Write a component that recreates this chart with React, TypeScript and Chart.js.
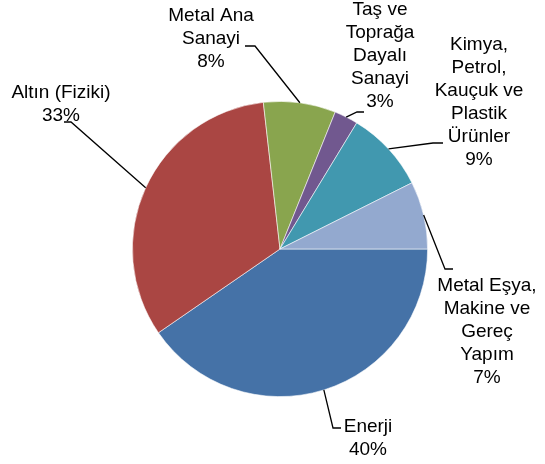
import React, { useEffect, useRef } from "react";
import { Chart, registerables } from "chart.js";

Chart.register(...registerables);

// ---- data ----
const categories = [
  "Enerji",
  "Altın (Fiziki)",
  "Metal Ana Sanayi",
  "Taş ve Toprağa Dayalı Sanayi",
  "Kimya, Petrol, Kauçuk ve Plastik Ürünler",
  "Metal Eşya, Makine ve Gereç Yapım",
];
const labelLines = [
  ["Enerji"],
  ["Altın (Fiziki)"],
  ["Metal Ana", "Sanayi"],
  ["Taş ve", "Toprağa", "Dayalı", "Sanayi"],
  ["Kimya,", "Petrol,", "Kauçuk ve", "Plastik", "Ürünler"],
  ["Metal Eşya,", "Makine ve", "Gereç", "Yapım"],
];
const shares = [40.4, 32.8, 7.9, 2.6, 8.9, 7.4];
const colors = ["#4572A7", "#AA4643", "#89A54E", "#71588F", "#4198AF", "#93A9CF"];

// ---- label layout (text centre x, first line centre y, elbow, horizontal end) ----
const labelLayout = [
  { tx: 368, ty: 427, ex: 333, ey: 428, hx: 341 },
  { tx: 61, ty: 93, ex: 71, ey: 122, hx: 64 },
  { tx: 211, ty: 16, ex: 255, ey: 46, hx: 245 },
  { tx: 380, ty: 10, ex: 357, ey: 112, hx: 364 },
  { tx: 479, ty: 45, ex: 433, ey: 143, hx: 443 },
  { tx: 487, ty: 286, ex: 445, ey: 269, hx: 453 },
];
const LINE_H = 23;
const FONT = '19px "Liberation Sans", Arial, sans-serif';

const labelPlugin = {
  id: "outsideLabels",
  afterDatasetsDraw(chart: any) {
    const ctx = chart.ctx;
    const meta = chart.getDatasetMeta(0);
    const total = shares.reduce((a, b) => a + b, 0);
    ctx.save();
    meta.data.forEach((arc: any, i: number) => {
      const { x, y, startAngle, endAngle, outerRadius } = arc.getProps(
        ["x", "y", "startAngle", "endAngle", "outerRadius"],
        true
      );
      const mid = (startAngle + endAngle) / 2;
      const px = x + Math.cos(mid) * outerRadius;
      const py = y + Math.sin(mid) * outerRadius;
      const L = labelLayout[i];
      ctx.strokeStyle = "#000";
      ctx.lineWidth = 1.3;
      ctx.beginPath();
      ctx.moveTo(px, py);
      ctx.lineTo(L.ex, L.ey);
      ctx.lineTo(L.hx, L.ey);
      ctx.stroke();

      const lines = [...labelLines[i], Math.round((shares[i] / total) * 100) + "%"];
      ctx.fillStyle = "#000";
      ctx.font = FONT;
      ctx.textAlign = "center";
      ctx.textBaseline = "middle";
      lines.forEach((t, k) => {
        ctx.fillText(t, L.tx, L.ty + k * LINE_H);
      });
    });
    ctx.restore();
  },
};

export default function App() {
  const ref = useRef<HTMLCanvasElement | null>(null);
  useEffect(() => {
    if (!ref.current) return;
    const chart = new Chart(ref.current, {
      type: "pie",
      data: {
        labels: categories,
        datasets: [
          {
            data: shares,
            backgroundColor: colors,
            borderColor: "rgba(255,255,255,0.7)",
            borderWidth: 0.8,
          },
        ],
      },
      options: {
        responsive: false,
        maintainAspectRatio: false,
        animation: false,
        devicePixelRatio: 1,
        rotation: 90,
        layout: { padding: { left: 132, right: 117, top: 101, bottom: 67 } },
        plugins: {
          legend: { display: false },
          tooltip: { enabled: false },
          title: { display: false },
        },
      },
      plugins: [labelPlugin],
    });
    return () => chart.destroy();
  }, []);
  return (
    <div style={{ position: "absolute", left: 0, top: 0, width: 545, height: 464, background: "#fff" }}>
      <canvas ref={ref} width={545} height={464} style={{ display: "block" }} />
    </div>
  );
}
